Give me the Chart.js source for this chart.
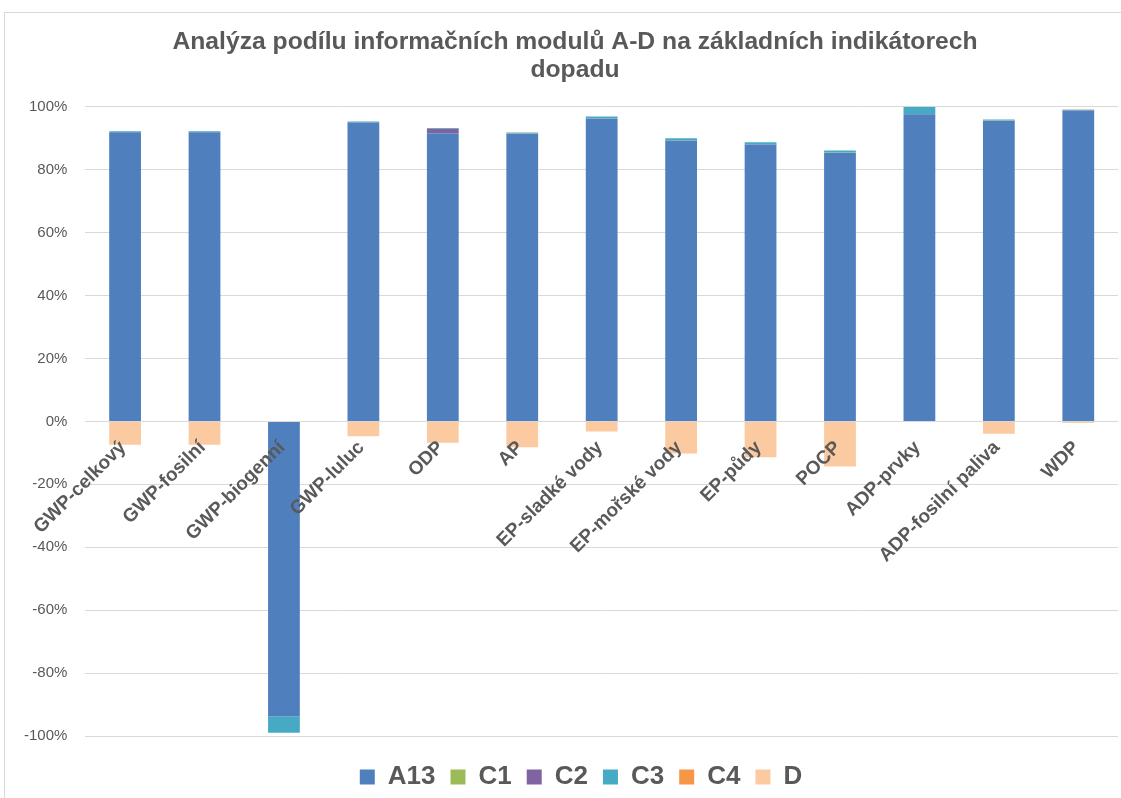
<!DOCTYPE html>
<html>
<head>
<meta charset="utf-8">
<script src="https://cdn.jsdelivr.net/npm/chart.js@4.4.0/dist/chart.umd.min.js"></script>
<style>
  body { margin: 0; background: #fff; }
  #wrap { position: relative; width: 1121px; height: 798px; }
  #frame { position: absolute; left: 4px; top: 12px; right: 0; bottom: 0;
           border-top: 1px solid #d9d9d9; border-left: 1px solid #d9d9d9; pointer-events: none; }
</style>
</head>
<body>
<div id="wrap">
  <canvas id="myChart"></canvas>
  <div id="frame"></div>
</div>
<script>
// kategorie (indikátory dopadu)
const categories = ['GWP-celkový', 'GWP-fosilní', 'GWP-biogenní', 'GWP-luluc', 'ODP', 'AP',
  'EP-sladké vody', 'EP-mořské vody', 'EP-půdy', 'POCP', 'ADP-prvky', 'ADP-fosilní paliva', 'WDP'];

// podíly modulů v %
const a13 = [91.9, 91.9, -93.8, 95.0, 91.6, 91.4, 96.3, 89.3, 88.0, 85.4, 97.6, 95.5, 98.8];
const c1  = [0.05, 0.05, 0, 0.05, 0.05, 0.05, 0.05, 0.05, 0.05, 0.05, 0.05, 0.05, 0.05];
const c2  = [0.05, 0.05, 0, 0.05, 1.4, 0.05, 0.05, 0.05, 0.05, 0.05, 0.05, 0.1, 0.05];
const c3  = [0.2, 0.2, -5.2, 0.2, 0.2, 0.3, 0.5, 0.6, 0.6, 0.6, 2.3, 0.3, 0.2];
const c4  = [0.02, 0.02, 0, 0.02, 0.02, 0.02, 0.02, 0.02, 0.02, 0.02, 0.02, 0.02, 0.02];
const d   = [-7.4, -7.4, 0, -4.7, -6.8, -8.2, -3.2, -10.2, -11.4, -14.3, -0.2, -3.9, -0.5];

// osa y
const yTicks = [-100, -80, -60, -40, -20, 0, 20, 40, 60, 80, 100];

const gray = '#595959';
Chart.defaults.font.family = '"Liberation Sans", Arial, sans-serif';
Chart.defaults.color = gray;

// posune nadpis a legendu trochu doprava (jako v originálu)
const shiftBoxes = {
  id: 'shiftBoxes',
  afterLayout(chart) {
    if (chart.titleBlock) { chart.titleBlock.left += 13; chart.titleBlock.right += 13; }
    if (chart.legend) { chart.legend.left += 19; chart.legend.right += 19; }
  }
};

const data = {
  labels: categories,
  datasets: [
    {label: 'A13', data: a13, backgroundColor: '#4f7fbc'},
    {label: 'C1', data: c1, backgroundColor: '#9bbb59'},
    {label: 'C2', data: c2, backgroundColor: '#7f64a1'},
    {label: 'C3', data: c3, backgroundColor: '#46aac4'},
    {label: 'C4', data: c4, backgroundColor: '#f79646'},
    {label: 'D', data: d, backgroundColor: '#fbcaa0'}
  ]
};

const graphArea = document.getElementById('myChart').getContext('2d');
const myChart = new Chart(graphArea, {
  type: 'bar',
  data: data,
  plugins: [shiftBoxes],
  options: {
    responsive: true,
    maintainAspectRatio: false,
    animation: false,
    devicePixelRatio: 1,
    categoryPercentage: 1,
    barPercentage: 0.4,
    layout: {padding: {left: 6, right: 3, top: 0, bottom: -2}},
    plugins: {
      title: {
        display: true,
        text: ['Analýza podílu informačních modulů A-D na základních indikátorech', 'dopadu'],
        font: {size: 24.7, weight: 'bold', lineHeight: 1.13},
        color: gray,
        padding: {top: 28, bottom: 23}
      },
      legend: {
        position: 'bottom',
        title: {display: true, text: ' ', font: {size: 1, lineHeight: 1}, padding: {top: 0, bottom: 12}},
        labels: {
          boxWidth: 15,
          boxHeight: 15,
          padding: 15,
          color: gray,
          font: {size: 26, weight: 'bold'}
        }
      },
      tooltip: {enabled: false}
    },
    scales: {
      x: {
        stacked: true,
        position: {y: 0},
        grid: {display: false, drawTicks: false},
        border: {display: false},
        ticks: {
          z: 1,
          autoSkip: false,
          minRotation: 45,
          maxRotation: 45,
          padding: 15,
          labelOffset: -2,
          color: gray,
          font: {size: 19, weight: 'bold'}
        }
      },
      y: {
        stacked: true,
        min: yTicks[0],
        max: yTicks[yTicks.length - 1],
        afterBuildTicks: (scale) => { scale.ticks = yTicks.map(v => ({value: v})); },
        grid: {color: '#d9d9d9', drawTicks: false},
        border: {display: false},
        ticks: {
          padding: 18,
          color: gray,
          font: {size: 15},
          callback: (v) => v + '%'
        }
      }
    }
  }
});
</script>
</body>
</html>
